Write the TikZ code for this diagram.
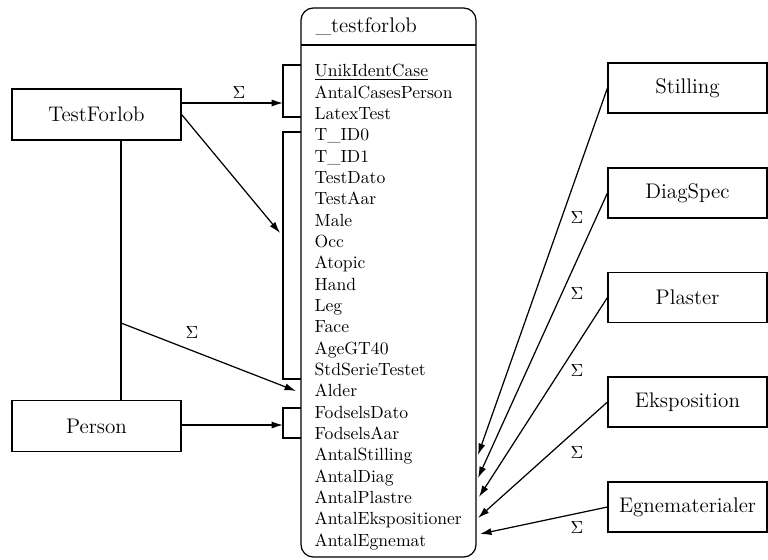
\documentclass[tikz,border=0pt]{standalone}
\usetikzlibrary{arrows.meta,calc}
\begin{document}
\begin{tikzpicture}[x=0.5682pt,y=-0.5682pt,line width=0.7pt,
  ent/.style={draw,minimum width=96pt,minimum height=29pt,inner sep=0pt,font=\large},
  rent/.style={draw,minimum width=90.3pt,minimum height=28.4pt,inner sep=0pt,font=\large},
  arr/.style={-{Latex[length=6.5pt,width=4pt]}},
  attr/.style={anchor=base west,inner sep=0pt},
  sig/.style={inner sep=0pt}]
\useasboundingbox (0,0) rectangle (768,559);
% table
\draw[rounded corners=7pt] (301,8) rectangle (476,557);
\draw (301,45) -- (476,45);
\node[attr,font=\large] (hdr) at (315,33) {\_testforlob};
\node[attr] (a0) at (314,77) {\underline{UnikIdentCase}};
\foreach \t [count=\i] in {AntalCasesPerson,LatexTest,T\_ID0,T\_ID1,TestDato,TestAar,Male,Occ,Atopic,Hand,Leg,Face,AgeGT40,StdSerieTestet,Alder,FodselsDato,FodselsAar,AntalStilling,AntalDiag,AntalPlastre,AntalEkspositioner,AntalEgnemat}
  \node[attr] (a\i) at (314,{77+21.32*\i}) {\t};
% brackets
\draw (301,65) -- (283,65) -- (283,117) -- (301,117);
\draw (301,132) -- (283,132) -- (283,379) -- (301,379);
\draw (301,408) -- (283,408) -- (283,438) -- (301,438);
\coordinate (b1) at (283,103);
\coordinate (b2) at (280,233);
\coordinate (b3) at (283,425);
\coordinate (alder) at (296,391);
\coordinate (j) at (121,323);
% left entities
\node[ent] (tf) at (96.5,114.5) {TestForlob};
\node[ent] (p) at (96.5,426) {Person};
\draw[arr] (tf.east |- b1) -- (b1);
\node[sig] at (239,92) {$\Sigma$};
\draw[arr] (tf.east) -- (b2);
\draw (tf.south -| j) -- (p.north -| j);
\draw[arr] (j) -- (alder);
\node[sig] at (192,332) {$\Sigma$};
\draw[arr] (p.east |- b3) -- (b3);
% right entities
\node[rent] (st) at (687.5,88) {Stilling};
\node[rent] (ds) at (687.5,193) {DiagSpec};
\node[rent] (pl) at (687.5,297.5) {Plaster};
\node[rent] (ek) at (687.5,402) {Eksposition};
\node[rent] (eg) at (687.5,507) {Egnematerialer};
\coordinate (t1) at (478,455);
\coordinate (t2) at (478,478);
\coordinate (t3) at (479,497);
\coordinate (t4) at (478,518);
\coordinate (t5) at (480,534);
\draw[arr] (st.west) -- (t1);
\draw[arr] (ds.west) -- (t2);
\draw[arr] (pl.west) -- (t3);
\draw[arr] (ek.west) -- (t4);
\draw[arr] (eg.west) -- (t5);
\foreach \yy in {217,293,370,452,527}
  \node[sig] at (577,\yy) {$\Sigma$};
\end{tikzpicture}
\end{document}
